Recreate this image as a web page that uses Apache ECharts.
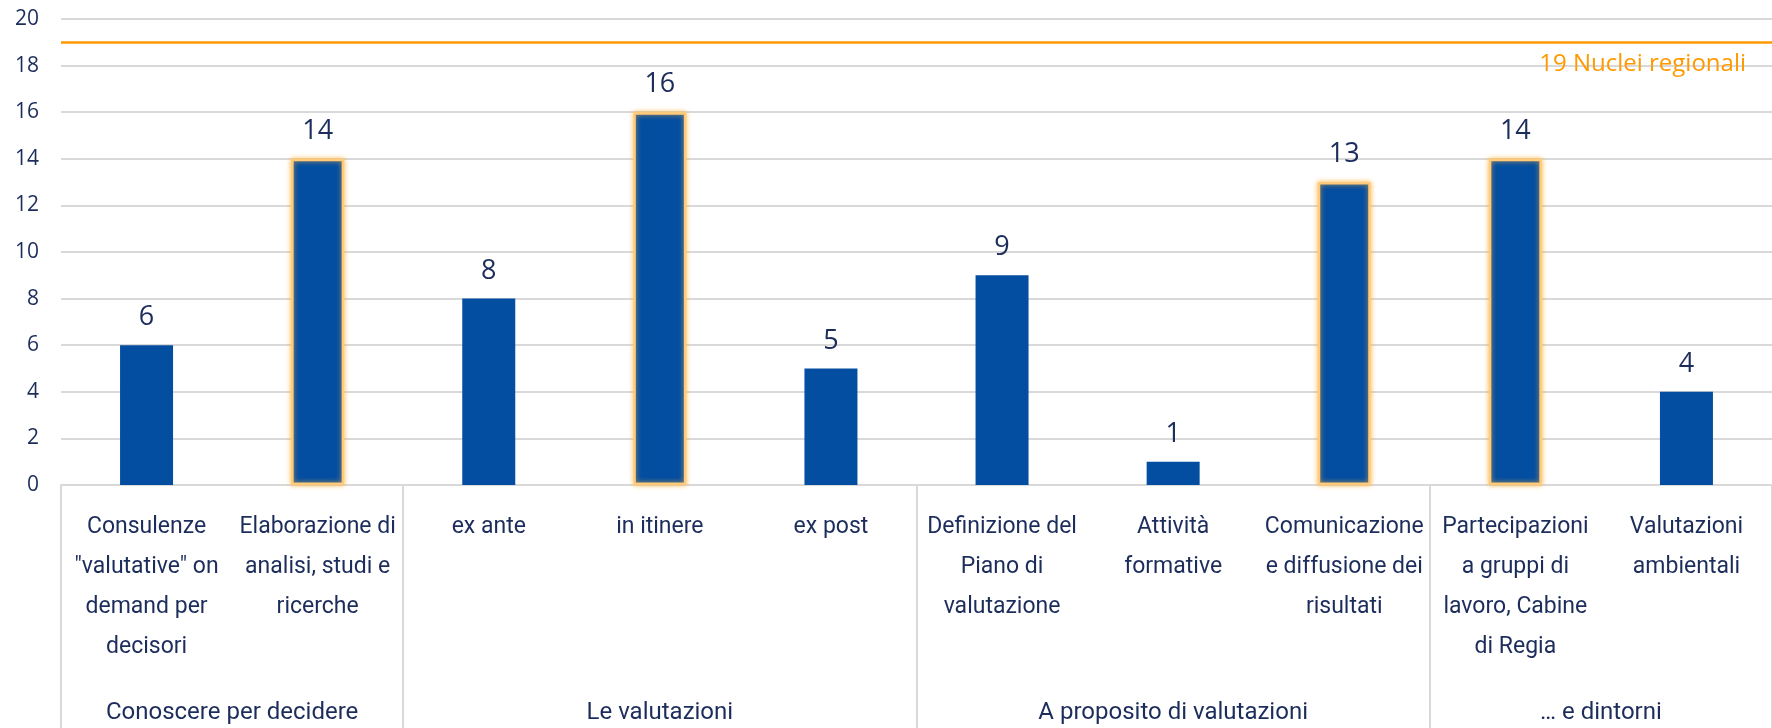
<!DOCTYPE html>
<html>
<head>
<meta charset="utf-8">
<script src="https://cdn.jsdelivr.net/npm/echarts@6/dist/echarts.min.js"></script>
<style>
  html, body { margin: 0; padding: 0; background: #fff; }
  #main { width: 1772px; height: 728px; }
</style>
</head>
<body>
<div id="main"></div>
<script>
// categorie (asse x, primo livello)
const categories = [
  'Consulenze\n"valutative" on\ndemand per\ndecisori',
  'Elaborazione di\nanalisi, studi e\nricerche',
  'ex ante',
  'in itinere',
  'ex post',
  'Definizione del\nPiano di\nvalutazione',
  'Attività\nformative',
  'Comunicazione\ne diffusione dei\nrisultati',
  'Partecipazioni\na gruppi di\nlavoro, Cabine\ndi Regia',
  'Valutazioni\nambientali'
];
// numero di nuclei per attività
const values = [6, 14, 8, 16, 5, 9, 1, 13, 14, 4];
// barre evidenziate (indici)
const highlighted = [1, 3, 7, 8];

// gruppi (secondo livello) e confini tra i gruppi
const groupNames = ['Conoscere per decidere', 'Le valutazioni', 'A proposito di valutazioni', '… e dintorni'];
const groupBounds = [0, 2, 5, 8, 10];

const refValue = 19;
const refLabel = '19 Nuclei regionali';

const navy = '#1C2D5C';
const blue = '#044EA1';
const orange = '#FF9900';
const grey = '#D9D9D9';

const groupCenters = groupNames.map((g, i) => (groupBounds[i] + groupBounds[i + 1]) / 2);

const myChart = echarts.init(document.getElementById('main'));

const option = {
  backgroundColor: '#fff',
  animation: false,
  grid: { left: 61, right: -9, top: 19, bottom: 243 },
  xAxis: [
    {
      type: 'category',
      data: categories,
      axisLine: { lineStyle: { color: grey, width: 2 } },
      axisTick: { show: false },
      axisLabel: {
        interval: 0,
        color: navy,
        fontFamily: 'Roboto',
        fontSize: 23,
        lineHeight: 40,
        verticalAlign: 'top',
        margin: 22
      }
    },
    {
      // livello dei gruppi
      type: 'value',
      position: 'bottom',
      min: 0,
      max: 10,
      axisLine: { show: false },
      splitLine: { show: false },
      axisTick: {
        show: true,
        customValues: groupBounds,
        length: 250,
        lineStyle: { color: grey, width: 2 }
      },
      axisLabel: {
        customValues: groupCenters,
        formatter: v => groupNames[groupCenters.indexOf(v)] || '',
        color: navy,
        fontFamily: 'Roboto',
        fontSize: 24,
        verticalAlign: 'middle',
        margin: 228
      }
    }
  ],
  yAxis: {
    type: 'value',
    min: 0,
    max: 20,
    interval: 2,
    axisLine: { show: false },
    axisTick: { show: false },
    splitLine: { lineStyle: { color: grey, width: 2 } },
    axisLabel: {
      color: navy,
      fontFamily: 'Open Sans',
      fontSize: 21,
      margin: 22
    }
  },
  series: [
    {
      type: 'bar',
      barWidth: 53,
      data: values.map((v, i) => {
        if (highlighted.indexOf(i) < 0) return v;
        return {
          value: v,
          itemStyle: {
            borderColor: '#FFCB7A',
            borderWidth: 2.5,
            shadowColor: 'rgba(255,175,50,0.8)',
            shadowBlur: 5
          }
        };
      }),
      itemStyle: { color: blue },
      label: {
        show: true,
        position: 'top',
        distance: 14,
        color: navy,
        fontFamily: 'Open Sans',
        fontSize: 27
      },
      markLine: {
        silent: true,
        symbol: 'none',
        lineStyle: { color: orange, width: 2.5, type: 'solid' },
        label: {
          position: 'insideEndBottom',
          formatter: refLabel,
          color: orange,
          fontFamily: 'Open Sans',
          fontSize: 24,
          distance: [26, 10]
        },
        data: [{ yAxis: refValue }]
      }
    }
  ]
};

myChart.setOption(option);
</script>
</body>
</html>
